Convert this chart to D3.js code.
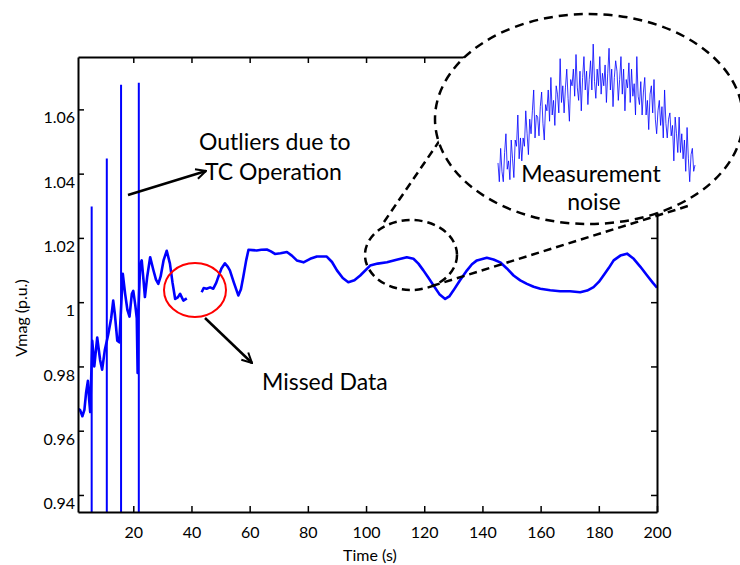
<!DOCTYPE html>
<html>
<head>
<meta charset="utf-8">
<script src="https://cdn.jsdelivr.net/npm/d3@7"></script>
<style>
  body { margin: 0; background: #fff; }
  svg text { font-family: Lato, "Open Sans", sans-serif; fill: #000; }
</style>
</head>
<body>
<svg id="chart" width="740" height="565"></svg>
<script>
// voltage magnitude (null = missed data)
const times = [1.0, 1.7, 2.5, 3.2, 3.8, 4.4, 4.8, 5.2, 5.9, 6.6, 7.6, 8.6, 9.3, 10.2,
  11.4, 12.4, 13.1, 13.7, 14.5, 15.2, 16.4, 17.2, 18.0, 18.7, 19.5, 20.0, 20.7, 21.2, 21.5, 21.7,
  22.4, 22.9, 23.5, 24.0, 24.8, 25.8, 26.9, 27.8, 28.6, 29.4, 30.4, 31.5, 32.6, 33.5, 34.4,
  35.3, 36.1, 37.2, 38.4, 41.0, 43.5, 44.2, 45.2, 46.4, 47.5, 48.5, 49.2, 50.3, 51.5, 52.5,
  53.2, 54.6, 56.1, 57.0, 57.8, 58.8, 59.6, 61.0, 62.4, 64.0, 65.9, 67.3, 68.7, 70.6, 72.8,
  74.5, 76.2, 78.5, 80.8, 83.1, 86.5, 88.3, 90.0, 92.0, 93.9, 96.0, 98.0, 101.4, 104.0,
  107.2, 110.5, 114.0, 116.3, 118.0, 119.7, 121.5, 123.2, 125.2, 127.2, 128.6, 130.0, 132.3,
  134.7, 136.4, 138.1, 141.5, 143.8, 146.1, 148.4, 150.7, 153.0, 155.3, 157.6, 159.9, 163.3,
  166.7, 170.1, 173.6, 176.0, 178.2, 180.0, 181.6, 183.4, 185.1, 187.4, 189.7, 192.0, 194.3,
  196.6, 198.6, 200.0];
const vmag = [0.9668, 0.9665, 0.9645, 0.9665, 0.9720, 0.9755, 0.9700, 0.9658, 0.9880, 0.9800,
  0.9890, 0.9820, 0.9790, 0.9850, 0.9900, 0.9950, 1.0005, 0.9960, 0.9880, 0.9875, 1.0088,
  1.0026, 0.9975, 0.9955, 1.0026, 1.0035, 0.9990, 0.9950, 0.9780, 0.9960, 1.0120, 1.0130,
  1.0070, 1.0016, 1.0080, 1.0140, 1.0100, 1.0070, 1.0057, 1.0080, 1.0130, 1.0160, 1.0120,
  1.0060, 1.0010, 1.0015, 1.0026, 1.0005, 1.0012, null, 1.0031, 1.0044, 1.0042, 1.0046,
  1.0042, 1.0060, 1.0078, 1.0105, 1.0121, 1.0110, 1.0099, 1.0060, 1.0021, 1.0040, 1.0078,
  1.0130, 1.0163, 1.0162, 1.0161, 1.0163, 1.0164, 1.0158, 1.0150, 1.0152, 1.0156, 1.0145,
  1.0130, 1.0124, 1.0135, 1.0142, 1.0142, 1.0125, 1.0099, 1.0075, 1.0062, 1.0068, 1.0083,
  1.0114, 1.0120, 1.0124, 1.0132, 1.0140, 1.0135, 1.0120, 1.0099, 1.0075, 1.0052, 1.0025,
  1.0010, 1.0018, 1.0036, 1.0068, 1.0099, 1.0118, 1.0130, 1.0138, 1.0133, 1.0124, 1.0105,
  1.0083, 1.0068, 1.0057, 1.0048, 1.0042, 1.0037, 1.0034, 1.0034, 1.0031, 1.0036, 1.0047,
  1.0063, 1.0083, 1.0106, 1.0130, 1.0145, 1.0151, 1.0135, 1.0110, 1.0083, 1.0060, 1.0045];

// tap changer outliers: time and peak value, each one drops to below the axis
const outlierT = [5.7, 10.9, 15.8, 21.9];
const outlierTop = [1.0298, 1.0447, 1.0677, 1.0683];
const outlierBottom = 0.93;

// zoomed-in noisy segment shown in the inset
const insetV = [
  1.0107, 1.0098, 1.0114, 1.0103, 1.0098, 1.0112, 1.0121, 1.0104, 1.0108, 1.0099,
  1.0118, 1.0109, 1.0100, 1.0118, 1.0115, 1.0130, 1.0109, 1.0119, 1.0108, 1.0119,
  1.0115, 1.0132, 1.0121, 1.0111, 1.0128, 1.0121, 1.0132, 1.0142, 1.0119, 1.0130,
  1.0129, 1.0120, 1.0134, 1.0141, 1.0126, 1.0118, 1.0135, 1.0132, 1.0142, 1.0127,
  1.0148, 1.0130, 1.0137, 1.0125, 1.0144, 1.0140, 1.0131, 1.0157, 1.0136, 1.0144,
  1.0131, 1.0143, 1.0152, 1.0138, 1.0127, 1.0147, 1.0144, 1.0152, 1.0139, 1.0159,
  1.0143, 1.0137, 1.0151, 1.0132, 1.0148, 1.0158, 1.0142, 1.0151, 1.0135, 1.0147,
  1.0156, 1.0142, 1.0164, 1.0146, 1.0138, 1.0152, 1.0144, 1.0158, 1.0140, 1.0150,
  1.0144, 1.0154, 1.0136, 1.0150, 1.0162, 1.0142, 1.0152, 1.0134, 1.0148, 1.0156,
  1.0151, 1.0137, 1.0147, 1.0158, 1.0140, 1.0152, 1.0132, 1.0147, 1.0143, 1.0155,
  1.0136, 1.0152, 1.0139, 1.0145, 1.0130, 1.0158, 1.0139, 1.0135, 1.0146, 1.0130,
  1.0141, 1.0148, 1.0130, 1.0137, 1.0123, 1.0140, 1.0144, 1.0131, 1.0147, 1.0128,
  1.0121, 1.0132, 1.0137, 1.0125, 1.0134, 1.0119, 1.0142, 1.0126, 1.0119, 1.0128,
  1.0131, 1.0120, 1.0125, 1.0108, 1.0129, 1.0121, 1.0112, 1.0129, 1.0112, 1.0121,
  1.0109, 1.0118, 1.0103, 1.0124, 1.0109, 1.0098, 1.0111, 1.0114, 1.0103, 1.0106];

const xTicks = [20, 40, 60, 80, 100, 120, 140, 160, 180, 200];
const yTicks = [0.94, 0.96, 0.98, 1, 1.02, 1.04, 1.06];

const svg = d3.select("#chart");
const margin = { top: 57, right: 83, bottom: 53, left: 78 };
const width = 740 - margin.left - margin.right;
const height = 565 - margin.top - margin.bottom;

const x = d3.scaleLinear().domain([1, 200]).range([0, width]);
const y = d3.scaleLinear().domain([0.9347, 1.0763]).range([height, 0]);

const chart = svg.append("g")
  .attr("transform", `translate(${margin.left},${margin.top})`);

chart.append("clipPath").attr("id", "plotClip")
  .append("rect").attr("width", width).attr("height", height);

const series = times.map((t, i) => ({ t: t, v: vmag[i] }));

const line = d3.line()
  .defined(d => d.v != null)
  .x(d => x(d.t))
  .y(d => y(d.v));

chart.append("path")
  .datum(series)
  .attr("clip-path", "url(#plotClip)")
  .attr("fill", "none")
  .attr("stroke", "#0000ff")
  .attr("stroke-width", 2.6)
  .attr("stroke-linejoin", "round")
  .attr("d", line);

// the outlier spikes
chart.append("g")
  .attr("clip-path", "url(#plotClip)")
  .selectAll("line")
  .data(outlierT)
  .join("line")
  .attr("x1", d => x(d)).attr("x2", d => x(d))
  .attr("y1", (d, i) => y(outlierTop[i]))
  .attr("y2", y(outlierBottom))
  .attr("stroke", "#0000ff")
  .attr("stroke-width", 2);

// axes with inward ticks, MATLAB style box
chart.append("g")
  .attr("transform", `translate(0,${height})`)
  .call(d3.axisBottom(x).tickValues(xTicks).tickSize(-6).tickPadding(15).tickSizeOuter(0));
chart.append("g")
  .call(d3.axisTop(x).tickValues(xTicks).tickSize(-6).tickFormat("").tickSizeOuter(0));
const yAxis = chart.append("g")
  .call(d3.axisLeft(y).tickValues(yTicks).tickSize(-6).tickPadding(3).tickSizeOuter(0)
    .tickFormat(d => d === 1 ? "1" : d3.format(".2f")(d)));
chart.append("g")
  .attr("transform", `translate(${width},0)`)
  .call(d3.axisRight(y).tickValues(yTicks).tickSize(-6).tickFormat("").tickSizeOuter(0));

chart.selectAll(".domain").attr("stroke", "#000").attr("stroke-width", 2);
chart.selectAll(".tick line").attr("stroke", "#000").attr("stroke-width", 1.5);
chart.selectAll(".tick text").style("font-size", "16px").attr("fill", "#000");
yAxis.selectAll(".tick text").attr("dy", "0.85em");

svg.append("text")
  .attr("x", 370).attr("y", 561)
  .attr("text-anchor", "middle")
  .style("font-size", "16px")
  .text("Time (s)");

svg.append("text")
  .attr("transform", "translate(27,318) rotate(-90)")
  .attr("text-anchor", "middle")
  .style("font-size", "16px")
  .text("Vmag (p.u.)");

// arrow marker
svg.append("defs").append("marker")
  .attr("id", "arrow")
  .attr("viewBox", "0 0 10 10")
  .attr("refX", 9).attr("refY", 5)
  .attr("markerWidth", 5).attr("markerHeight", 5)
  .attr("orient", "auto")
  .append("path")
  .attr("d", "M1,1 L9,5 L1,9")
  .attr("fill", "none")
  .attr("stroke", "#000")
  .attr("stroke-width", 1.6);

// outliers annotation
svg.append("line")
  .attr("x1", 128).attr("y1", 195).attr("x2", 206).attr("y2", 171)
  .attr("stroke", "#000").attr("stroke-width", 2.5)
  .attr("marker-end", "url(#arrow)");
svg.append("text").attr("x", 199).attr("y", 150).style("font-size", "23px").text("Outliers due to");
svg.append("text").attr("x", 205).attr("y", 180).style("font-size", "23px").text("TC Operation");

// missed data annotation
svg.append("ellipse")
  .attr("cx", 195).attr("cy", 290).attr("rx", 31).attr("ry", 27)
  .attr("fill", "none").attr("stroke", "#ff0000").attr("stroke-width", 2);
svg.append("line")
  .attr("x1", 205).attr("y1", 318).attr("x2", 252).attr("y2", 363)
  .attr("stroke", "#000").attr("stroke-width", 2.5)
  .attr("marker-end", "url(#arrow)");
svg.append("text").attr("x", 262).attr("y", 390).style("font-size", "23px").text("Missed Data");

// measurement noise zoom
svg.append("ellipse")
  .attr("cx", 411).attr("cy", 255).attr("rx", 46).attr("ry", 35)
  .attr("fill", "none").attr("stroke", "#000").attr("stroke-width", 2.5)
  .attr("stroke-dasharray", "8,5");
svg.append("line")
  .attr("x1", 384).attr("y1", 222).attr("x2", 440).attr("y2", 140)
  .attr("stroke", "#000").attr("stroke-width", 2.5).attr("stroke-dasharray", "8,5");
svg.append("line")
  .attr("x1", 432).attr("y1", 286).attr("x2", 688).attr("y2", 206)
  .attr("stroke", "#000").attr("stroke-width", 2.5).attr("stroke-dasharray", "8,5");

svg.append("ellipse")
  .attr("cx", 589).attr("cy", 119).attr("rx", 154).attr("ry", 105)
  .attr("fill", "#fff").attr("stroke", "#000").attr("stroke-width", 2.5)
  .attr("stroke-dasharray", "9,6");

const ix = d3.scaleLinear().domain([0, insetV.length - 1]).range([498, 695]);
const iy = d3.scaleLinear().domain([1.0095, 1.0165]).range([188, 42]);

svg.append("clipPath").attr("id", "insetClip")
  .append("rect").attr("x", 490).attr("y", 30).attr("width", 215).attr("height", 152);

svg.append("path")
  .datum(insetV)
  .attr("clip-path", "url(#insetClip)")
  .attr("fill", "none")
  .attr("stroke", "#0000ff")
  .attr("stroke-width", 0.8)
  .attr("d", d3.line().x((d, i) => ix(i)).y(d => iy(d)));

svg.append("text").attr("x", 591).attr("y", 182).attr("text-anchor", "middle")
  .style("font-size", "23px").text("Measurement");
svg.append("text").attr("x", 594).attr("y", 210).attr("text-anchor", "middle")
  .style("font-size", "23px").text("noise");
</script>
</body>
</html>
